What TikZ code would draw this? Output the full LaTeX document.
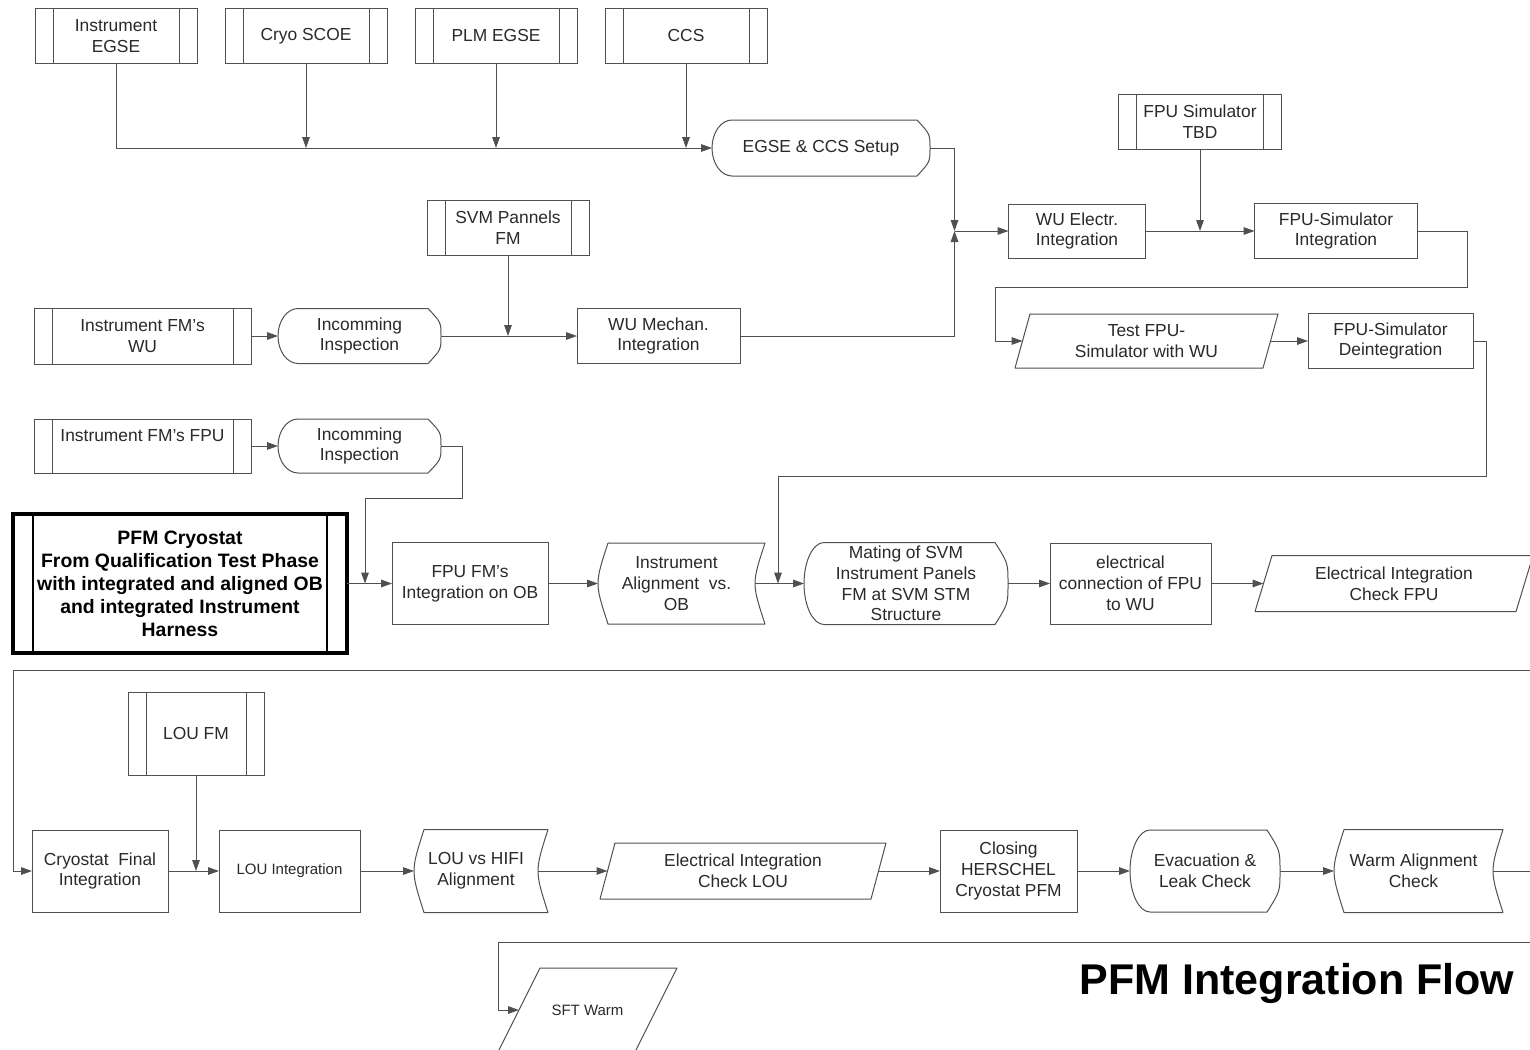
\documentclass[tikz,border=0pt]{standalone}
\usepackage{fontspec}
\setmainfont{Liberation Sans}
\usepackage{tikz}
\usetikzlibrary{calc,positioning,arrows.meta}
\usepackage{xcolor}
\definecolor{linegray}{HTML}{505050}
\definecolor{textdark}{HTML}{2A2A2A}
\definecolor{pagewhite}{HTML}{FFFFFF}

\begin{document}
\begin{tikzpicture}[
      x=0.5pt, y=-0.5pt,
      every node/.style={font=\fontsize{8.7}{10.4}\selectfont, text=textdark, align=center, inner sep=2pt, outer sep=0pt},
      box/.style={draw=linegray, line width=0.5pt},
      bare/.style={draw=none},
      predef/.style={
        box,
        path picture={
          \draw[linegray, line width=0.5pt]
            ([xshift=#1]path picture bounding box.north west) -- ([xshift=#1]path picture bounding box.south west)
            ([xshift=-#1]path picture bounding box.north east) -- ([xshift=-#1]path picture bounding box.south east);
        }
      },
      predef/.default=9pt,
      heavy/.style={
        draw=black, line width=1.6pt,
        path picture={
          \draw[black, line width=1.4pt]
            ([xshift=10pt]path picture bounding box.north west) -- ([xshift=10pt]path picture bounding box.south west)
            ([xshift=-10pt]path picture bounding box.north east) -- ([xshift=-10pt]path picture bounding box.south east);
        }
      },
      outline/.style={draw=linegray, line width=0.5pt, line join=round},
      arr/.style={draw=linegray, line width=0.5pt, -{Triangle[length=5.5pt,width=3.8pt]}},
      wire/.style={draw=linegray, line width=0.5pt},
      small/.style={font=\fontsize{7.5}{9}\selectfont}
    ]
      \fill[pagewhite] (0,0) rectangle (1530,1049);
      \useasboundingbox (0,0) rectangle (1530,1049);

      \node[predef, minimum width=81pt, minimum height=27.5pt] (n1) at (116,36) {Instrument\\EGSE};
      \node[predef, minimum width=81pt, minimum height=27.5pt, right=14pt of n1] (n2) {Cryo SCOE};
      \node[predef, minimum width=81pt, minimum height=27.5pt, right=14pt of n2] (n3) {PLM EGSE};
      \node[predef, minimum width=81pt, minimum height=27.5pt, right=14pt of n3] (n4) {CCS};
      \node[bare, minimum width=109pt, minimum height=28pt] (n5) at (821,148) {EGSE \& CCS Setup};
      \node[predef, minimum width=81.5pt, minimum height=27.5pt] (n6) at (1200,122) {FPU Simulator\\TBD};
      \node[box, minimum width=68.5pt, minimum height=27pt] (n7) at (1077,231) {WU Electr.\\Integration};
      \node[box, minimum width=81.5pt, minimum height=27.5pt, right=54.5pt of n7] (n8) {FPU-Simulator\\Integration};
      \node[bare, minimum width=124pt, minimum height=27pt] (n9) at (1146.5,341) {Test FPU-\\Simulator with WU};
      \node[box, minimum width=82.5pt, minimum height=27.5pt, right=18.75pt of n9] (n10) {FPU-Simulator\\Deintegration};

      \node[predef, minimum width=81pt, minimum height=27.5pt] (n11) at (508,228) {SVM Pannels\\FM};
      \node[predef, minimum width=108.5pt, minimum height=28pt] (n12) at (142.5,336) {Instrument FM's\\WU};
      \node[bare, minimum width=81.5pt, minimum height=27.5pt, right=13.5pt of n12] (n13) {Incomming\\Inspection};
      \node[box, minimum width=81.5pt, minimum height=27.5pt, right=68pt of n13] (n14) {WU Mechan.\\Integration};
      \node[predef, minimum width=108.5pt, minimum height=27pt, below=27.5pt of n12] (n15) {Instrument FM's FPU\\~};
      \node[bare, minimum width=81.5pt, minimum height=27pt, right=13.5pt of n15] (n16) {Incomming\\Inspection};

      \node[heavy, minimum width=167pt, minimum height=69.5pt, font=\bfseries\fontsize{9.7}{11.5}\selectfont, text=black] (n17) at (180,583.5) {
        PFM Cryostat\\
        From Qualification Test Phase\\
        with integrated and aligned OB\\
        and integrated Instrument\\
        Harness
      };
      \node[box, minimum width=78pt, minimum height=41pt, right=22.5pt of n17] (n18) {FPU FM's\\Integration on OB};
      \node[bare, minimum width=78.5pt, minimum height=40.5pt, right=25pt of n18] (n19) {Instrument\\Alignment~ vs.\\OB};
      \node[bare, minimum width=102pt, minimum height=41pt, inner ysep=0pt, right=24.5pt of n19] (n20) {
        Mating of SVM\\
        Instrument Panels\\
        FM at SVM STM\\
        Structure
      };
      \node[box, minimum width=80.5pt, minimum height=40.5pt, right=21pt of n20] (n21) {electrical\\connection of FPU\\to WU};
      \node[bare, minimum width=130.5pt, minimum height=28pt, right=26.25pt of n21] (n22) {Electrical Integration\\Check FPU};

      \node[predef, minimum width=68pt, minimum height=41.5pt] (n23) at (196,733.5) {LOU FM};
      \node[box, minimum width=68pt, minimum height=41pt] (n24) at (100,871) {Cryostat~ Final\\Integration};
      \node[box, small, minimum width=70.5pt, minimum height=41pt, right=25.5pt of n24] (n25) {LOU Integration};
      \node[bare, minimum width=62pt, minimum height=41.5pt, right=27pt of n25] (n26) {LOU vs HIFI\\Alignment};
      \node[bare, minimum width=135.5pt, minimum height=28pt, right=34.75pt of n26] (n27) {Electrical Integration\\Check LOU};
      \node[box, minimum width=68.5pt, minimum height=41pt, right=30.75pt of n27] (n28) {Closing\\HERSCHEL\\Cryostat PFM};
      \node[bare, minimum width=75pt, minimum height=41pt, right=26.5pt of n28] (n29) {Evacuation \&\\Leak Check};
      \node[bare, minimum width=79.5pt, minimum height=41.5pt, right=27pt of n29] (n30) {Warm Alignment\\Check};
      \node[bare, small, minimum width=68.5pt, minimum height=42pt] (n31) at (587.5,1010) {SFT Warm};
      \node[font=\bfseries\fontsize{21.5}{24}\selectfont, text=black] (n32) at (1297,983) {PFM Integration Flow};

      \foreach \n in {n5,n13,n16,n20,n29}
        \draw[outline] ($(\n.north west)+(20,0)$) -- ($(\n.north east)+(-13,0)$)
          .. controls ($(\n.north east)!0.5!(\n.east)$) .. (\n.east)
          .. controls ($(\n.south east)!0.5!(\n.east)$) .. ($(\n.south east)+(-13,0)$)
          -- ($(\n.south west)+(20,0)$)
          .. controls ($(\n.south west)+(9,0)$) and ($(\n.west)!0.55!(\n.south west)$) .. (\n.west)
          .. controls ($(\n.west)!0.55!(\n.north west)$) and ($(\n.north west)+(9,0)$) .. ($(\n.north west)+(20,0)$);
      \foreach \n in {n19,n26,n30}
        \draw[outline] ($(\n.north west)+(10,0)$) -- ($(\n.north east)+(10,0)$)
          .. controls ($(\n.east)+(-3.3,0)$) .. ($(\n.south east)+(10,0)$)
          -- ($(\n.south west)+(10,0)$)
          .. controls ($(\n.west)+(-3.3,0)$) .. ($(\n.north west)+(10,0)$);
      \foreach \n/\s in {n9/7.5,n22/8.5,n27/7.5,n31/21}
        \draw[outline] ($(\n.north west)+(\s,0)$) -- ($(\n.north east)+(\s,0)$)
          -- ($(\n.south east)+(-\s,0)$) -- ($(\n.south west)+(-\s,0)$) -- cycle;

      \coordinate (j1) at ($(n7.west)+(-54,0)$);
      \coordinate (j2) at ($(n20.west)+(-26,0)$);
      \coordinate (j3) at ($(n18.west)+(-27,0)$);
      \coordinate (j4) at ($(n24.west)+(-19,0)$);
      \coordinate (e1) at (1530,670);
      \coordinate (e2) at (1530,942);
      \coordinate (e3) at (n30.east -| e1);

      \draw[arr] (n1.south) |- (n5.west);
      \foreach \n in {n2,n3,n4}
        \draw[arr] (\n.south) -- (\n.south |- n5.west);
      \draw[arr] (n5.east) -| (j1);
      \draw[arr] (n14.east) -| (j1);
      \draw[arr] (j1) -- (n7.west);
      \draw[arr] (n6.south) -- (n6.south |- n7.east);
      \draw[arr] (n7.east) -- (n8.west);
      \draw[arr] (n8.east) -- ++(50,0) -- ++(0,56) -| ($(n9.west)+(-27,0)$) -- (n9.west);
      \draw[arr] (n9.east) -- (n10.west);
      \draw[arr] (n10.east) -- ++(13,0) |- ($(j2)+(0,-107)$) -- (j2);

      \draw[arr] (n11.south) -- (n11.south |- n14.west);
      \draw[arr] (n12.east) -- (n13.west);
      \draw[arr] (n13.east) -- (n14.west);
      \draw[arr] (n15.east) -- (n16.west);
      \draw[arr] (n16.east) -- ++(21,0) |- ($(j3)+(0,-85)$) -- (j3);
      \foreach \a/\b in {n17/n18,n18/n19,n19/n20,n20/n21,n21/n22}
        \draw[arr] (\a.east) -- (\b.west);

      \draw[arr] (e1) -| (j4) -- (n24.west);
      \draw[arr] (n23.south) -- (n23.south |- n25.west);
      \foreach \a/\b in {n24/n25,n25/n26,n26/n27,n27/n28,n28/n29,n29/n30}
        \draw[arr] (\a.east) -- (\b.west);
      \draw[wire] (n30.east) -- (e3);
      \draw[arr] (e2) -| ($(n31.west)+(-21,0)$) -- (n31.west);
    \end{tikzpicture}
\end{document}
